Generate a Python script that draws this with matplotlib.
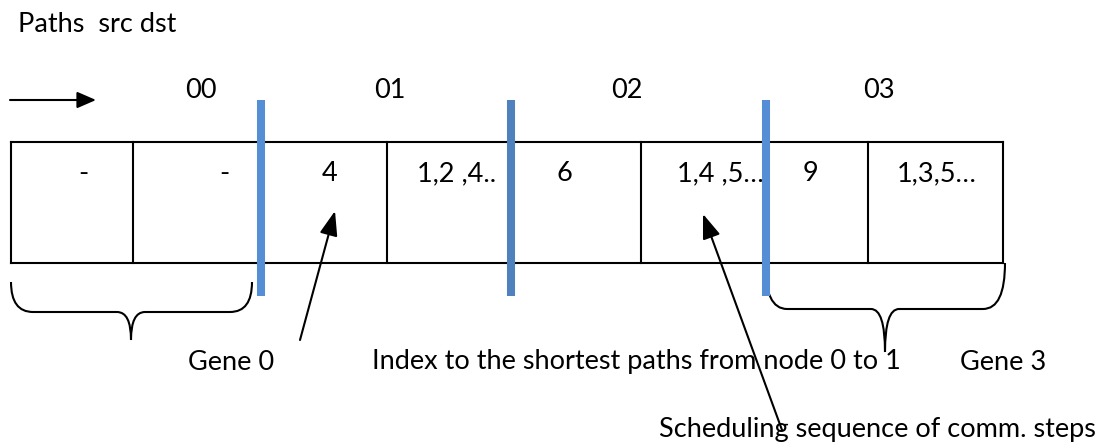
import matplotlib.pyplot as plt
from matplotlib.path import Path
from matplotlib.patches import PathPatch

plt.rcParams['font.family'] = ['Lato', 'DejaVu Sans']

# cell edges (px) and labels
cell_edges = [11, 133, 261, 387, 511, 641, 766, 868, 1003]
cell_labels = ["-", "-", "4", "1,2 ,4..", "6", "1,4 ,5…", "9", "1,3,5…"]
cell_label_x = [83, 224, 330, 457, 564, 720, 810, 937]

# gene boundaries (blue bars) and pair labels
gene_bounds = [261, 511, 766]
gene_colors = ["#558ED5", "#4F81BD", "#558ED5"]
pair_labels = ["00", "01", "02", "03"]
pair_label_x = [201, 390, 627, 879]

BOX_TOP, BOX_BOT = 142, 263

fig = plt.figure(figsize=(11.07, 4.45), dpi=100)
ax = fig.add_axes([0, 0, 1, 1])
ax.set_xlim(0, 1107)
ax.set_ylim(445, 0)
ax.axis("off")

FS = 19.5

# the box with cells
ax.plot([cell_edges[0], cell_edges[-1]], [BOX_TOP, BOX_TOP], color="black", lw=1.5)
ax.plot([cell_edges[0], cell_edges[-1]], [BOX_BOT, BOX_BOT], color="black", lw=1.5)
for x in cell_edges:
    ax.plot([x, x], [BOX_TOP, BOX_BOT], color="black", lw=1.5)
for lab, x in zip(cell_labels, cell_label_x):
    ax.text(x, 181, lab, ha="center", va="baseline", fontsize=FS)

for x, c in zip(gene_bounds, gene_colors):
    ax.plot([x, x], [100, 296], color=c, lw=5.8, solid_capstyle="butt", zorder=3)

for lab, x in zip(pair_labels, pair_label_x):
    ax.text(x, 98, lab, ha="center", va="baseline", fontsize=FS)

ax.text(18, 32, "Paths  src dst", ha="left", va="baseline", fontsize=FS)
ax.annotate("", xy=(96, 100), xytext=(10, 100),
            arrowprops=dict(arrowstyle="-|>,head_length=1.15,head_width=0.5",
                            mutation_scale=10, lw=1.5, color="black",
                            shrinkA=0, shrinkB=0))


def brace(x0, x1, xc, ytop, ymid, ybot, r=22, r2=14):
    verts = [(x0, ytop), (x0, ymid), (x0 + r, ymid),
             (xc - r2, ymid), (xc, ymid), (xc, ybot),
             (xc, ymid), (xc + r2, ymid),
             (x1 - r, ymid), (x1, ymid), (x1, ytop)]
    codes = [Path.MOVETO, Path.CURVE3, Path.CURVE3,
             Path.LINETO, Path.CURVE3, Path.CURVE3,
             Path.CURVE3, Path.CURVE3,
             Path.LINETO, Path.CURVE3, Path.CURVE3]
    ax.add_patch(PathPatch(Path(verts, codes), fill=False, lw=1.5, ec="black"))


brace(11, 252, 131, 282, 312, 340)
brace(765, 1005, 885, 263, 309, 352)

head = dict(arrowstyle="-|>,head_length=1.5,head_width=0.55",
            mutation_scale=10, lw=1.5, color="black", shrinkA=0, shrinkB=0)
ax.annotate("", xy=(335, 211), xytext=(300, 340), arrowprops=head)
ax.annotate("", xy=(703, 214), xytext=(782, 430), arrowprops=head)

ax.text(188, 370, "Gene 0", ha="left", va="baseline", fontsize=FS)
ax.text(372, 369, "Index to the shortest paths from node 0 to 1", ha="left", va="baseline", fontsize=FS)
ax.text(960, 370, "Gene 3", ha="left", va="baseline", fontsize=FS)
ax.text(659, 437, "Scheduling sequence of comm. steps", ha="left", va="baseline", fontsize=FS)

fig.savefig("out.png", dpi=100)
